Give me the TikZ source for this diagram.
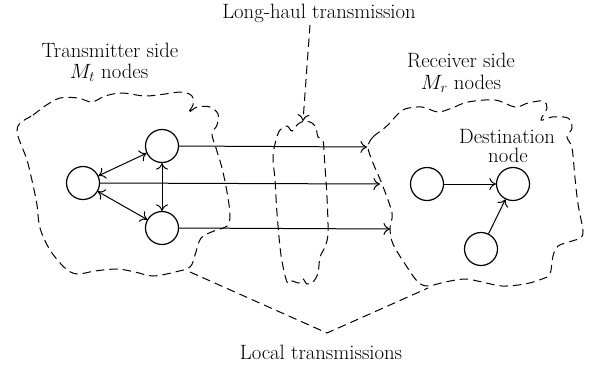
\documentclass[tikz,border=0pt]{standalone}
\usetikzlibrary{arrows.meta}
\begin{document}
\begin{tikzpicture}[x=1bp,y=-1bp,
  vert/.style={circle,draw,line width=1.2bp,minimum size=33bp,inner sep=0pt},
  lbl/.style={anchor=base,inner sep=0pt,font=\fontsize{20.8}{22}\selectfont},
  tip/.tip={To[length=6.5bp,width=12bp]},
  conn/.style={line width=1bp,-tip},
  both/.style={line width=1bp,tip-tip},
  blob/.style={dash pattern=on 8.5bp off 5bp,line width=1bp},
]
\useasboundingbox (0,0) rectangle (595,368);

% blobs
\draw[blob] plot[smooth cycle,tension=0.55] coordinates {
 (20,123) (33,115) (45,106) (60,98) (78,98) (92,102) (105,96) (122,93) (145,96)
 (165,94) (182,92) (192,96) (193,105) (188,113) (197,107) (210,107) (218,114)
 (217,125) (212,134) (216,148) (222,168) (227,192) (230,215) (227,226) (214,231)
 (201,238) (195,255) (190,267) (175,272) (153,276) (135,272) (117,269) (95,271)
 (77,274) (65,268) (50,250) (40,228) (37,205) (33,185) (27,160) (20,142) (17,131)};

\draw[blob] plot[smooth cycle,tension=0.55] coordinates {
 (280,130) (287,126) (292,131) (298,124) (305,121) (312,123) (316,128) (318,137)
 (323,141) (324,152) (325,167) (327,197) (328,233) (325,247) (320,257) (318,273)
 (313,282) (307,284) (303,279) (299,283) (292,281) (287,282) (281,255) (277,213)
 (275,180) (273,157) (276,140)};

\draw[blob] plot[smooth cycle,tension=0.55] coordinates {
 (368,147) (373,137) (382,130) (390,123) (396,116) (405,109) (422,107) (438,112)
 (452,108) (468,102) (495,100) (515,107) (528,103) (543,101) (547,108) (541,120)
 (552,117) (568,118) (572,128) (567,137) (572,148) (575,178) (578,204) (583,231)
 (580,238) (572,241) (558,246) (553,256) (550,274) (542,279) (525,284) (502,286)
 (482,282) (465,279) (445,282) (428,286) (418,282) (407,267) (393,244) (390,228)
 (392,213) (382,184) (373,163)};

% nodes
\node[vert] (L) at (83,183) {};
\node[vert] (T) at (162,146) {};
\node[vert] (B) at (162,228) {};
\node[vert] (R1) at (427,184) {};
\node[vert] (D) at (513,184) {};
\node[vert] (R3) at (481,249) {};

% free ends
\coordinate (eT) at (367,147);
\coordinate (eL) at (380,184);
\coordinate (eB) at (390,229);
\coordinate (lhs) at (310,25);
\coordinate (lhe) at (303,121);
\coordinate (lta) at (190,272);
\coordinate (ltv) at (327,333);
\coordinate (ltb) at (428,288);

% connectors
\draw[both] (L) -- (T);
\draw[both] (L) -- (B);
\draw[both] (T) -- (B);
\draw[conn] (T.east) -- (eT);
\draw[conn] (L.east) -- (eL);
\draw[conn] (B.east) -- (eB);
\draw[conn] (R1) -- (D);
\draw[conn] (R3) -- (D);
\draw[blob,-tip] (lhs) -- (lhe);
\draw[blob] (lta) -- (ltv) -- (ltb);

% labels
\node[lbl] (lh) at (319,18) {Long-haul transmission};
\node[lbl] (tx1) at (110,57) {Transmitter side};
\node[lbl] (tx2) at (109,78) {$M_t$ nodes};
\node[lbl] (rx1) at (461,67) {Receiver side};
\node[lbl] (rx2) at (461,89) {$M_r$ nodes};
\node[lbl] (ds1) at (507,143) {Destination};
\node[lbl] (ds2) at (508,162) {node};
\node[lbl] (lt) at (321,359) {Local transmissions};
\end{tikzpicture}
\end{document}
